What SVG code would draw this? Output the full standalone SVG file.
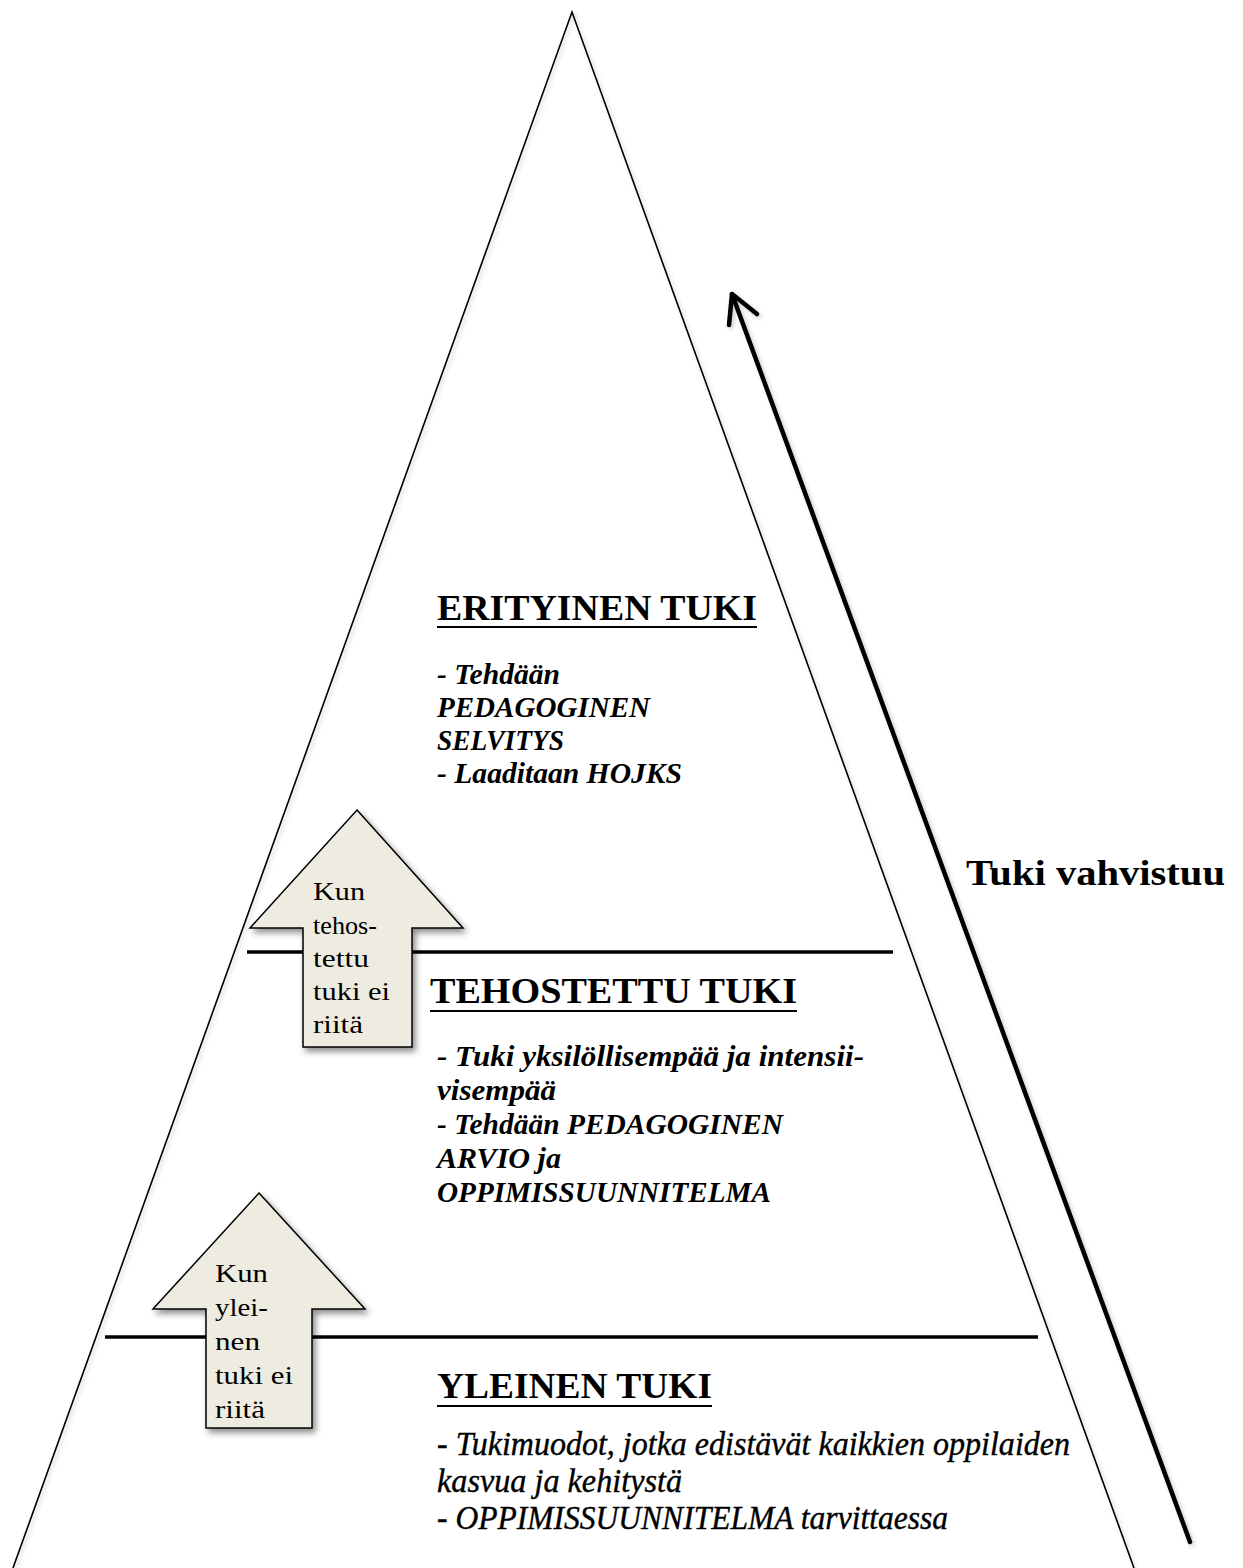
<svg xmlns="http://www.w3.org/2000/svg" width="1243" height="1568" viewBox="0 0 1243 1568">
  <style>
    text { font-family: "Liberation Serif", "Times New Roman", serif; fill: #000; }
    .head { font-size: 35px; font-weight: bold; }
    .bi { font-size: 29px; font-weight: bold; font-style: italic; }
    .it { font-size: 33px; font-style: italic; stroke: #000; stroke-width: 0.4; }
    .arr { font-size: 26px; }
    .ul { stroke: #000; stroke-width: 1.8; }
    .level { stroke: #000; stroke-width: 3.5; }
    .block { fill: #EEECE1; stroke: #000; stroke-width: 1.5; stroke-linejoin: miter; }
  </style>
  <defs>
    <filter id="shadow" x="-20%" y="-20%" width="150%" height="150%">
      <feDropShadow dx="3" dy="4" stdDeviation="3" flood-color="#000" flood-opacity="0.45"/>
    </filter>
    <filter id="soft" x="-5%" y="-5%" width="110%" height="110%">
      <feDropShadow dx="2" dy="2" stdDeviation="2" flood-color="#000" flood-opacity="0.2"/>
    </filter>
  </defs>
  <rect width="1243" height="1568" fill="#fff"/>

  <g id="pyramid" filter="url(#soft)">
    <polyline points="13,1568 572,12 1134,1568" fill="none" stroke="#000" stroke-width="1.6" stroke-linejoin="miter"/>
  </g>

  <g id="levels">
    <line class="level" x1="247" y1="952" x2="893" y2="952"/>
    <line class="level" x1="105" y1="1337" x2="1038" y2="1337"/>
  </g>

  <g id="connectors" filter="url(#soft)">
    <g id="strength-arrow" fill="none" stroke="#000" stroke-width="4.5" stroke-linecap="round" stroke-linejoin="round">
      <line x1="1190" y1="1542" x2="732" y2="294"/>
      <polyline points="729,325 732,294 757,314"/>
    </g>
  </g>

  <g id="arrow-tehostettu">
    <polygon class="block" filter="url(#shadow)" points="357,810 463,928 412,928 412,1047 303,1047 303,928 250,928"/>
    <text class="arr" x="313" y="900" textLength="52" lengthAdjust="spacingAndGlyphs">Kun</text>
    <text class="arr" x="313" y="934" textLength="64" lengthAdjust="spacingAndGlyphs">tehos-</text>
    <text class="arr" x="313" y="967" textLength="56" lengthAdjust="spacingAndGlyphs">tettu</text>
    <text class="arr" x="313" y="1000" textLength="77" lengthAdjust="spacingAndGlyphs">tuki ei</text>
    <text class="arr" x="313" y="1033" textLength="50" lengthAdjust="spacingAndGlyphs">riitä</text>
  </g>

  <g id="arrow-yleinen">
    <polygon class="block" filter="url(#shadow)" points="259,1193 365,1309 312,1309 312,1428 206,1428 206,1309 153,1309"/>
    <text class="arr" x="215" y="1282" textLength="53" lengthAdjust="spacingAndGlyphs">Kun</text>
    <text class="arr" x="215" y="1316" textLength="53" lengthAdjust="spacingAndGlyphs">ylei-</text>
    <text class="arr" x="215" y="1350" textLength="45" lengthAdjust="spacingAndGlyphs">nen</text>
    <text class="arr" x="215" y="1384" textLength="78" lengthAdjust="spacingAndGlyphs">tuki ei</text>
    <text class="arr" x="215" y="1418" textLength="50" lengthAdjust="spacingAndGlyphs">riitä</text>
  </g>

  <g id="erityinen-tuki">
    <text class="head" x="437" y="620" textLength="320" lengthAdjust="spacingAndGlyphs">ERITYINEN TUKI</text>
    <line class="ul" x1="437" y1="627" x2="757" y2="627"/>
    <text class="bi" x="437" y="684" textLength="123" lengthAdjust="spacingAndGlyphs">- Tehdään</text>
    <text class="bi" x="437" y="717" textLength="213" lengthAdjust="spacingAndGlyphs">PEDAGOGINEN</text>
    <text class="bi" x="437" y="750" textLength="127" lengthAdjust="spacingAndGlyphs">SELVITYS</text>
    <text class="bi" x="437" y="783" textLength="245" lengthAdjust="spacingAndGlyphs">- Laaditaan HOJKS</text>
  </g>

  <g id="tehostettu-tuki">
    <text class="head" x="430" y="1003" textLength="367" lengthAdjust="spacingAndGlyphs">TEHOSTETTU TUKI</text>
    <line class="ul" x1="430" y1="1011" x2="797" y2="1011"/>
    <text class="bi" x="437" y="1066" textLength="427" lengthAdjust="spacingAndGlyphs">- Tuki yksilöllisempää ja intensii-</text>
    <text class="bi" x="437" y="1100" textLength="119" lengthAdjust="spacingAndGlyphs">visempää</text>
    <text class="bi" x="437" y="1134" textLength="346" lengthAdjust="spacingAndGlyphs">- Tehdään PEDAGOGINEN</text>
    <text class="bi" x="437" y="1168" textLength="124" lengthAdjust="spacingAndGlyphs">ARVIO ja</text>
    <text class="bi" x="437" y="1202" textLength="334" lengthAdjust="spacingAndGlyphs">OPPIMISSUUNNITELMA</text>
  </g>

  <g id="yleinen-tuki">
    <text class="head" x="437" y="1398" textLength="275" lengthAdjust="spacingAndGlyphs">YLEINEN TUKI</text>
    <line class="ul" x1="437" y1="1406" x2="712" y2="1406"/>
    <text class="it" x="437" y="1455" textLength="633" lengthAdjust="spacingAndGlyphs">- Tukimuodot, jotka edistävät kaikkien oppilaiden</text>
    <text class="it" x="437" y="1492" textLength="245" lengthAdjust="spacingAndGlyphs">kasvua ja kehitystä</text>
    <text class="it" x="437" y="1529" textLength="511" lengthAdjust="spacingAndGlyphs">- OPPIMISSUUNNITELMA tarvittaessa</text>
  </g>

  <g id="tuki-vahvistuu">
    <text class="head" x="966" y="885" font-size="36" textLength="259" lengthAdjust="spacingAndGlyphs">Tuki vahvistuu</text>
  </g>
</svg>
